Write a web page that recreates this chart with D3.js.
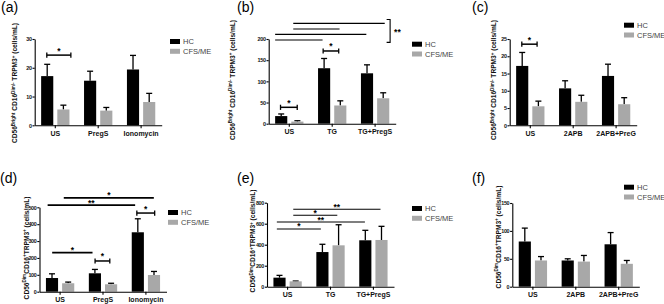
<!DOCTYPE html>
<html>
<head>
<meta charset="utf-8">
<script src="https://cdn.jsdelivr.net/npm/d3@7"></script>
<style>
    body { margin: 0; background: #fff; }
    svg { display: block; font-family: "Liberation Sans", Arial, sans-serif; }
</style>
</head>
<body>
<svg width="664" height="304"></svg>
<script>
// series names
const series = ['HC', 'CFS/ME'];

// (a) CD56bright, PregS / ionomycin
const catsA = ['US', 'PregS', 'Ionomycin'];
const hcA = [17.1, 15.5, 19.4];
const hcSemA = [4.1, 3.3, 4.9];
const cfsA = [5.5, 5.1, 8.1];
const cfsSemA = [1.5, 1.1, 3.0];
const ticksA = [0, 10, 20, 30];

// (b) CD56bright, TG
const catsB = ['US', 'TG', 'TG+PregS'];
const hcB = [18, 131, 119];
const hcSemB = [5, 23, 20];
const cfsB = [5, 43, 60];
const cfsSemB = [2, 11, 13];
const ticksB = [0, 50, 100, 150, 200];

// (c) CD56bright, 2APB
const catsC = ['US', '2APB', '2APB+PreG'];
const hcC = [17.2, 10.7, 14.3];
const hcSemC = [3.9, 2.2, 3.4];
const cfsC = [5.5, 6.8, 6.1];
const cfsSemC = [1.5, 1.9, 1.9];
const ticksC = [0, 5, 10, 15, 20, 25];

// (d) CD56dim, PregS / ionomycin
const catsD = ['US', 'PregS', 'Ionomycin'];
const hcD = [81, 109, 352];
const hcSemD = [25, 23, 80];
const cfsD = [50, 44, 99];
const cfsSemD = [7, 6, 21];
const ticksD = [0, 100, 200, 300, 400, 500];

// (e) CD56dim, TG
const catsE = ['US', 'TG', 'TG+PregS'];
const hcE = [86, 330, 442];
const hcSemE = [22, 74, 95];
const cfsE = [51, 394, 445];
const cfsSemE = [3, 196, 130];
const ticksE = [0, 200, 400, 600, 800];

// (f) CD56dim, 2APB
const catsF = ['US', '2APB', '2APB+PreG'];
const hcF = [81, 47, 76];
const hcSemF = [24, 3, 21];
const cfsF = [47, 45, 41];
const cfsSemF = [7, 11, 6];
const ticksF = [0, 50, 100, 150];

// significance marks: from category c1 (fraction f1 of group) to c2/f2, at data value y
const sigA = [{ c1: 0, f1: 0.2, c2: 0, f2: 1.05, y: 24.4, text: '*', cap: true }];
const sigB = [
    { c1: 0, f1: 0.19, c2: 0, f2: 0.78, y: 38.7, text: '*', cap: true },
    { c1: 1, f1: 0.18, c2: 1, f2: 0.73, y: 171.7, text: '*', cap: true },
    { c1: 0, f1: 0.64, c2: 2, f2: 0.84, y: 237, text: '', cap: false },
    { c1: 0, f1: 0.64, c2: 1, f2: 0.76, y: 223.6, text: '', cap: false },
    { c1: 0, f1: 0, c2: 2, f2: 0.19, y: 211, text: '', cap: false },
    { c1: 0, f1: 0, c2: 1, f2: 0.16, y: 197.6, text: '', cap: false },
];
const groupB = { c: 2, f: 1.03, y1: 246, y2: 192, text: '**' };
const sigC = [{ c1: 0, f1: 0.2, c2: 0, f2: 0.74, y: 23.5, text: '*', cap: true }];
const sigD = [
    { c1: 0, f1: 0.63, c2: 2, f2: 0.78, y: 556, text: '*', cap: false },
    { c1: 0, f1: 0.06, c2: 2, f2: 0.12, y: 513, text: '**', cap: false },
    { c1: 2, f1: 0.18, c2: 2, f2: 0.81, y: 466, text: '*', cap: true },
    { c1: 0, f1: 0.22, c2: 1, f2: 0.13, y: 231, text: '*', cap: false },
    { c1: 1, f1: 0.22, c2: 1, f2: 0.74, y: 182, text: '*', cap: true },
];
const sigE = [
    { c1: 0, f1: 0.7, c2: 2, f2: 0.75, y: 737, text: '**', cap: false },
    { c1: 0, f1: 0.7, c2: 1, f2: 0.74, y: 680, text: '*', cap: false },
    { c1: 0, f1: 0.12, c2: 2, f2: 0.2, y: 616, text: '**', cap: false },
    { c1: 0, f1: 0.12, c2: 1, f2: 0.16, y: 550, text: '*', cap: false },
];
const sigF = [];

const brightLabel = [['CD56', 0], ['Bright', 1], [' CD16', 0], ['Dim/-', 1], [' TRPM3', 0], ['+', 1], [' (cells/mL)', 0]];
const dimLabel = [['CD56', 0], ['Dim', 1], ['CD16', 0], ['+', 1], ['TRPM3', 0], ['+', 1], [' (cells/mL)', 0]];

const panels = [
    { id: '(a)', cats: catsA, hc: hcA, hcSem: hcSemA, cfs: cfsA, cfsSem: cfsSemA, ticks: ticksA, sig: sigA, label: brightLabel,
      x0: 34.7, y0: 125.3, yT: 39, tx: 1, ty: 12, lx: 170, ly: 39, labX: 15, labY: 83, sw: 1.5 },
    { id: '(b)', cats: catsB, hc: hcB, hcSem: hcSemB, cfs: cfsB, cfsSem: cfsSemB, ticks: ticksB, sig: sigB, label: brightLabel,
      x0: 268.7, y0: 123.7, yT: 39, tx: 237, ty: 12, lx: 412, ly: 41.7, labX: 232.5, labY: 80, sw: 1.1 },
    { id: '(c)', cats: catsC, hc: hcC, hcSem: hcSemC, cfs: cfsC, cfsSem: cfsSemC, ticks: ticksC, sig: sigC, label: brightLabel,
      x0: 509.7, y0: 125.3, yT: 39, tx: 472, ty: 12, lx: 624, ly: 22.7, labX: 494, labY: 80, sw: 1.5 },
    { id: '(d)', cats: catsD, hc: hcD, hcSem: hcSemD, cfs: cfsD, cfsSem: cfsSemD, ticks: ticksD, sig: sigD, label: dimLabel,
      x0: 39.5, y0: 291.7, yT: 207.3, tx: 0, ty: 183, lx: 168, ly: 210, labX: 26.5, labY: 248, sw: 1.7 },
    { id: '(e)', cats: catsE, hc: hcE, hcSem: hcSemE, cfs: cfsE, cfsSem: cfsSemE, ticks: ticksE, sig: sigE, label: dimLabel,
      x0: 267, y0: 286.7, yT: 202.7, tx: 237, ty: 183, lx: 412, ly: 206, labX: 252.8, labY: 241, sw: 1.1 },
    { id: '(f)', cats: catsF, hc: hcF, hcSem: hcSemF, cfs: cfsF, cfsSem: cfsSemF, ticks: ticksF, sig: sigF, label: dimLabel,
      x0: 512.3, y0: 286.7, yT: 203, tx: 472, ty: 183, lx: 624, ly: 184.7, labX: 498.3, labY: 237, sw: 1.1 },
];

const colors = { 'HC': '#000', 'CFS/ME': '#a8a8a8' };
const svg = d3.select('svg');
const plotWidth = 127;

panels.forEach((p) => {
    const g = svg.append('g');

    const x = d3.scaleBand()
        .domain(p.cats)
        .range([p.x0, p.x0 + plotWidth])
        .paddingInner(0.34)
        .paddingOuter(0.15);

    const xInner = d3.scaleBand()
        .domain(series)
        .range([0, x.bandwidth()])
        .paddingInner(0.25);

    const y = d3.scaleLinear()
        .domain([0, d3.max(p.ticks)])
        .range([p.y0, p.yT]);

    const rows = [];
    p.cats.forEach((c, i) => {
        rows.push({ cat: c, s: 'HC', v: p.hc[i], sem: p.hcSem[i] });
        rows.push({ cat: c, s: 'CFS/ME', v: p.cfs[i], sem: p.cfsSem[i] });
    });

    // error bars first so the bar covers the stem
    const eb = g.selectAll('.err')
        .data(rows)
        .enter()
        .append('g')
        .attr('stroke', '#000')
        .attr('stroke-width', 1.3);
    eb.append('line')
        .attr('x1', (d) => x(d.cat) + xInner(d.s) + xInner.bandwidth() / 2)
        .attr('x2', (d) => x(d.cat) + xInner(d.s) + xInner.bandwidth() / 2)
        .attr('y1', (d) => y(d.v))
        .attr('y2', (d) => y(d.v + d.sem));
    eb.append('line')
        .attr('x1', (d) => x(d.cat) + xInner(d.s) + xInner.bandwidth() / 2 - 3)
        .attr('x2', (d) => x(d.cat) + xInner(d.s) + xInner.bandwidth() / 2 + 3)
        .attr('y1', (d) => y(d.v + d.sem))
        .attr('y2', (d) => y(d.v + d.sem));

    g.selectAll('.bar')
        .data(rows)
        .enter()
        .append('rect')
        .attr('x', (d) => x(d.cat) + xInner(d.s))
        .attr('y', (d) => y(d.v))
        .attr('width', xInner.bandwidth())
        .attr('height', (d) => y(0) - y(d.v))
        .attr('fill', (d) => colors[d.s]);

    // axes
    const yAxis = g.append('g')
        .attr('transform', `translate(${p.x0},0)`)
        .call(d3.axisLeft(y).tickValues(p.ticks).tickSize(2.2).tickSizeOuter(0).tickPadding(0.8));
    const xAxis = g.append('g')
        .attr('transform', `translate(0,${p.y0})`)
        .call(d3.axisBottom(x).tickSize(3).tickSizeOuter(0).tickPadding(2.5));
    [yAxis, xAxis].forEach((a) => {
        a.attr('font-family', null).attr('font-size', null);
        a.selectAll('path, line').attr('stroke', '#000').attr('stroke-width', 1.1);
        a.selectAll('text').attr('fill', '#111').attr('font-weight', 'bold');
    });
    yAxis.selectAll('text')
        .attr('font-size', 5.4)
        .attr('letter-spacing', -0.3);
    xAxis.selectAll('text').attr('font-size', 7);

    // significance marks
    const px = (c, f) => x(p.cats[c]) + f * x.bandwidth();
    p.sig.forEach((s) => {
        const x1 = px(s.c1, s.f1);
        const x2 = px(s.c2, s.f2);
        const yy = y(s.y);
        g.append('line')
            .attr('x1', x1).attr('x2', x2)
            .attr('y1', yy).attr('y2', yy)
            .attr('stroke', '#000')
            .attr('stroke-width', s.cap ? 1.5 : p.sw);
        if (s.cap) {
            [x1, x2].forEach((xx) => {
                g.append('line')
                    .attr('x1', xx).attr('x2', xx)
                    .attr('y1', yy - 2.6).attr('y2', yy + 2.6)
                    .attr('stroke', '#000')
                    .attr('stroke-width', 1.3);
            });
        }
        if (s.text) {
            g.append('text')
                .attr('x', (x1 + x2) / 2)
                .attr('y', yy + (s.cap ? -1.5 : 0.5))
                .attr('text-anchor', 'middle')
                .attr('font-size', 8.5)
                .attr('font-weight', 'bold')
                .text(s.text);
        }
    });

    if (p.id === '(b)') {
        const gx = px(groupB.c, groupB.f);
        g.append('path')
            .attr('d', `M${gx - 3.5},${y(groupB.y1)}H${gx}V${y(groupB.y2)}H${gx - 3.5}`)
            .attr('fill', 'none')
            .attr('stroke', '#000')
            .attr('stroke-width', 1.1);
        g.append('text')
            .attr('x', gx + 4)
            .attr('y', (y(groupB.y1) + y(groupB.y2)) / 2 + 4)
            .attr('font-size', 8.5)
            .attr('font-weight', 'bold')
            .text(groupB.text);
    }

    // y label
    const lab = g.append('text')
        .attr('transform', `translate(${p.labX},${p.labY}) rotate(-90)`)
        .attr('text-anchor', 'middle')
        .attr('dy', '0.35em')
        .attr('font-size', 6.6)
        .attr('font-weight', 'bold')
        .attr('fill', '#111');
    let up = false;
    p.label.forEach(([t, sup]) => {
        const ts = lab.append('tspan').text(t);
        if (sup && !up) { ts.attr('dy', -2.4).attr('font-size', 4.6); up = true; }
        else if (sup) { ts.attr('font-size', 4.6); }
        else if (up) { ts.attr('dy', 2.4); up = false; }
    });

    // panel letter
    g.append('text')
        .attr('x', p.tx)
        .attr('y', p.ty)
        .attr('font-size', 14)
        .text(p.id);

    // legend
    series.forEach((s, i) => {
        g.append('rect')
            .attr('x', p.lx)
            .attr('y', p.ly + i * 9.8)
            .attr('width', 10)
            .attr('height', 5)
            .attr('fill', colors[s]);
        g.append('text')
            .attr('x', p.lx + 13)
            .attr('y', p.ly + i * 9.8 + 5)
            .attr('font-size', 7.5)
            .attr('fill', '#444')
            .text(s);
    });
});
</script>
</body>
</html>
